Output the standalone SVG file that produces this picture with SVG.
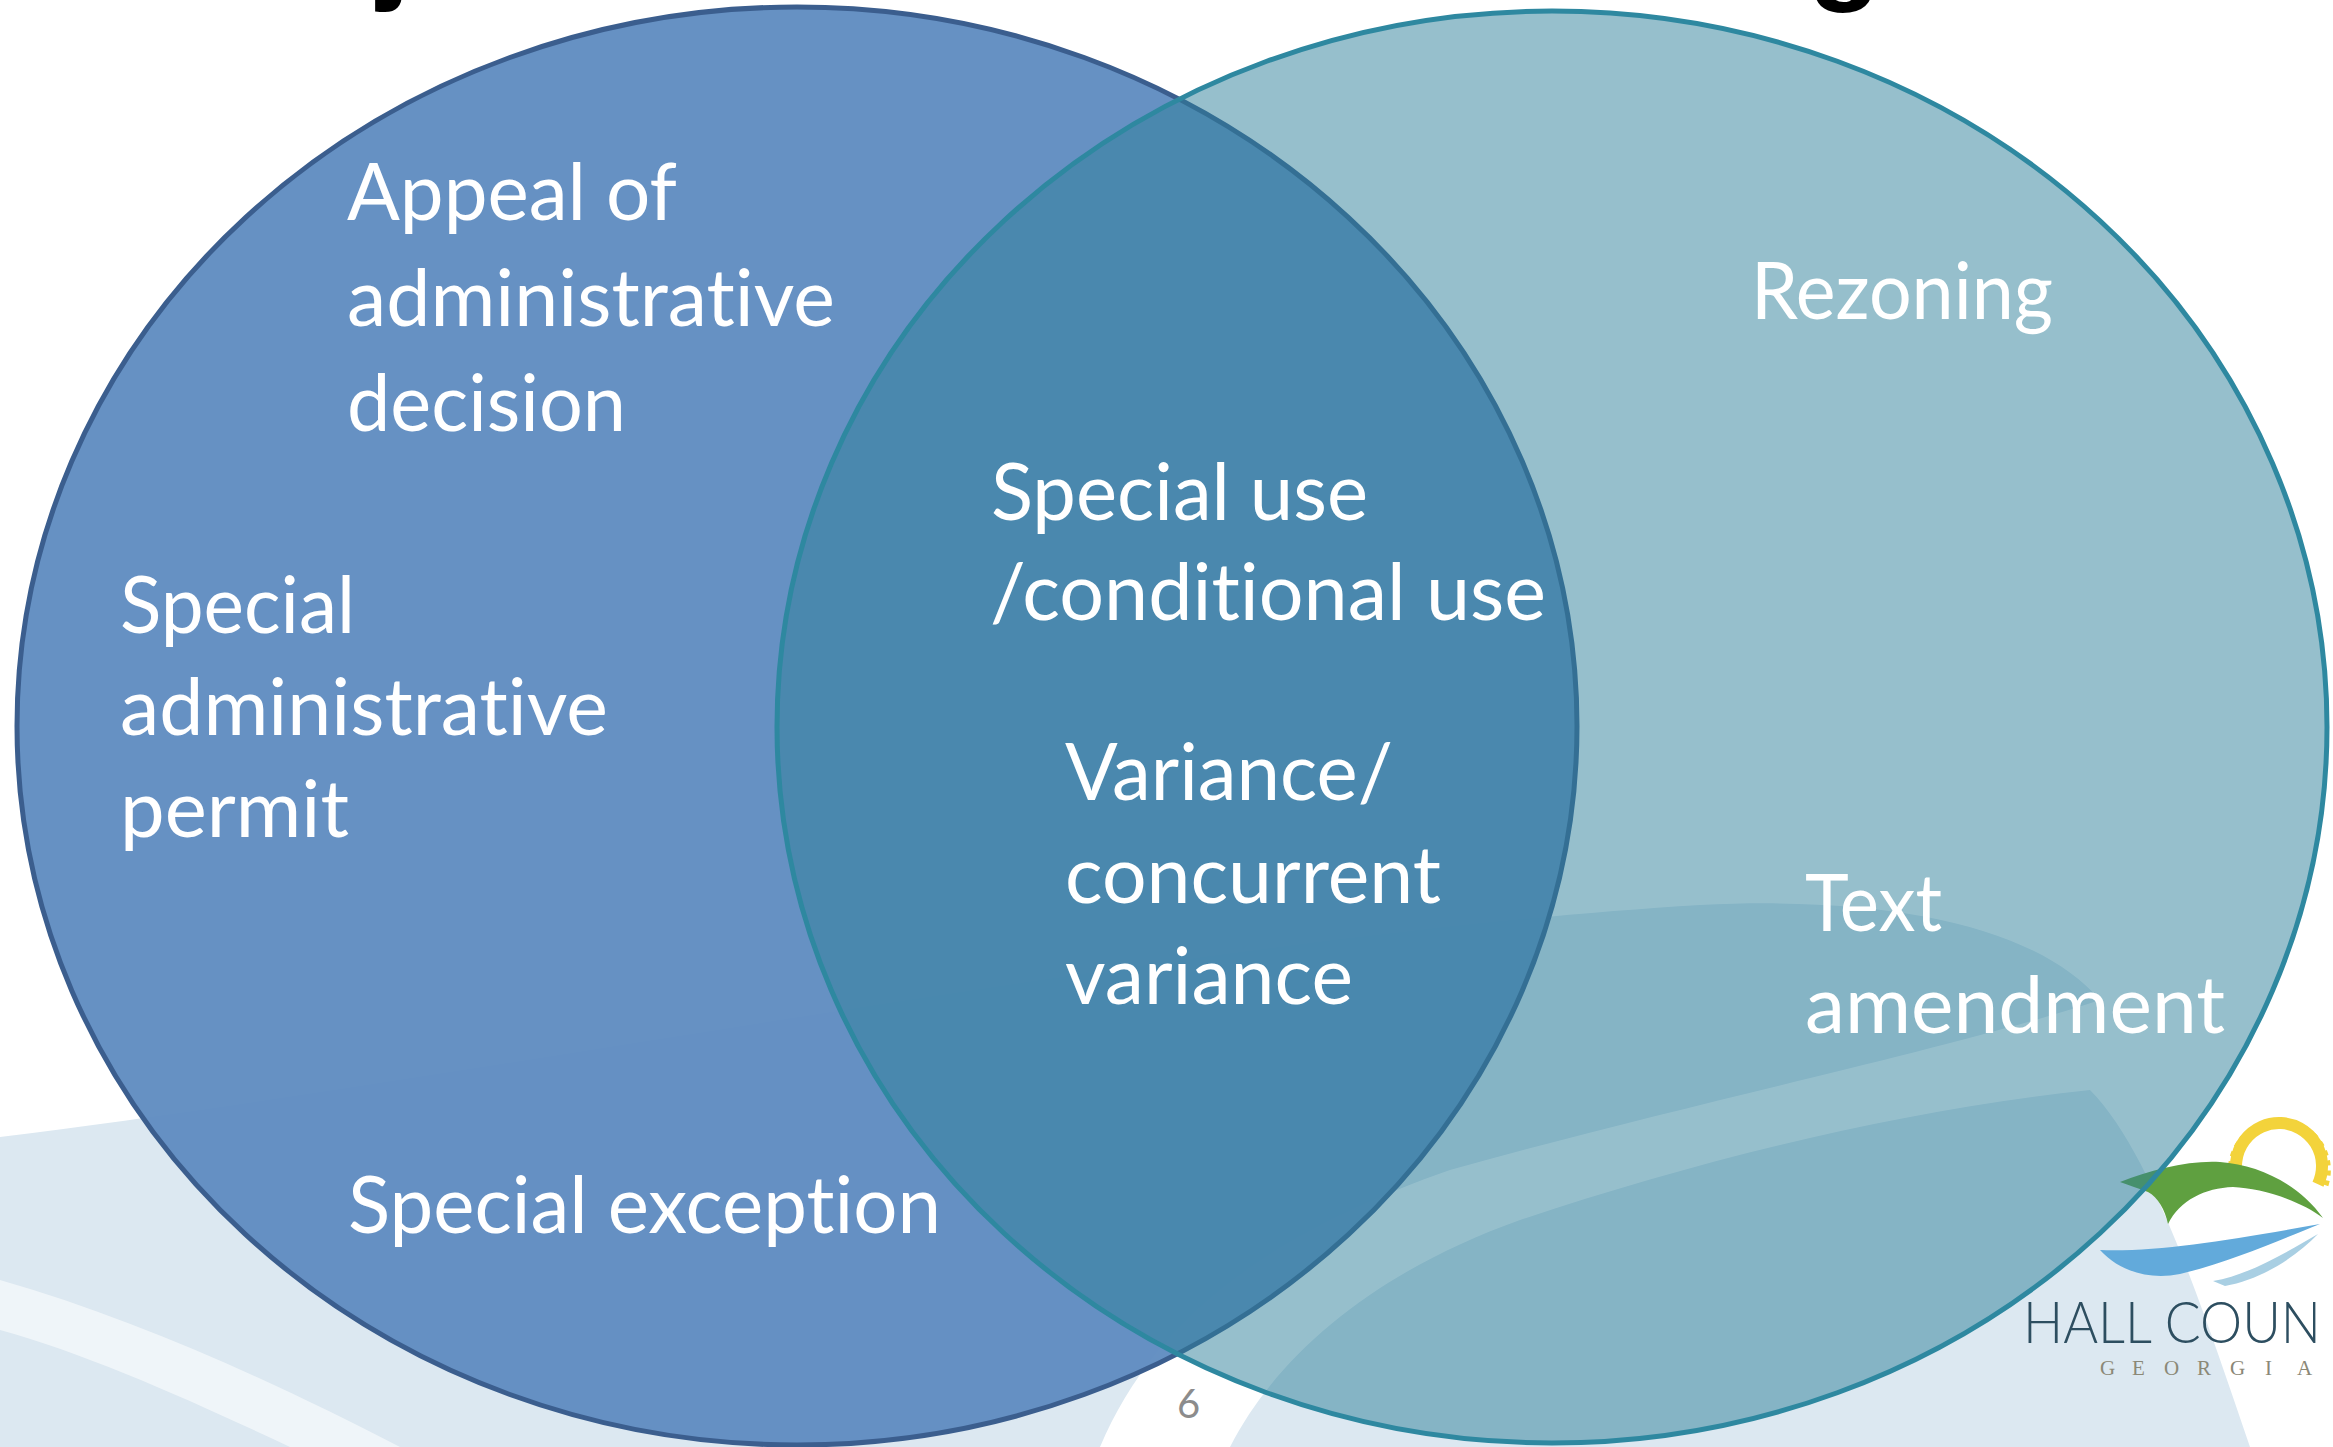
<svg xmlns="http://www.w3.org/2000/svg" width="2333" height="1447" viewBox="0 0 2333 1447">
  <style>
    .lbl { font-family: Lato, "Open Sans", "Liberation Sans", sans-serif; font-size: 80px; fill: #ffffff; font-variant-ligatures: none; font-feature-settings: "liga" 0, "clig" 0; }
    .ttl { font-family: "Liberation Sans", Arial, sans-serif; font-weight: bold; font-size: 120px; fill: #000000; }
    .band { fill: #dce8f1; }
    .setL { fill: #5e8bc0; fill-opacity: 0.95; stroke: #3b5e8e; stroke-width: 5; }
    .setR { fill: #2d7f99; fill-opacity: 0.5; stroke: #2e88a0; stroke-width: 5; }
  </style>
  <rect id="page" x="0" y="0" width="2333" height="1447" fill="#ffffff"/>

  <g id="background">
    <path class="band" d="M0,1137 C500,1075 1200,935 1700,905 C1900,895 2040,930 2100,1000 C1950,1050 1700,1100 1450,1170 C1250,1240 1150,1330 1100,1447 L0,1447 Z"/>
    <path d="M0,1280 C140,1320 280,1385 400,1447 L290,1447 C190,1400 90,1355 0,1330 Z" fill="#ffffff" fill-opacity="0.55"/>
    <path class="band" d="M1230,1447 C1280,1350 1380,1270 1520,1220 C1700,1160 1900,1110 2090,1090 C2150,1150 2200,1300 2250,1447 Z"/>
  </g>

  <g id="title-fragments">
    <text class="ttl" x="377" y="-13">j</text>
    <text class="ttl" x="1808" y="-13">g</text>
  </g>

  <g id="logo">
    <path d="M2238.6,1180.7 A43,43 0 1 1 2318,1184.2" fill="none" stroke="#f3d33b" stroke-width="12"/>
    <path d="M2233,1186 A49,49 0 1 1 2325,1188" fill="none" stroke="#f3d33b" stroke-width="5" stroke-dasharray="5 5"/>
    <path d="M2120,1182 C2150,1170 2190,1160 2220,1162 C2260,1165 2300,1185 2323,1218 C2300,1200 2260,1188 2233,1187 C2205,1188 2180,1200 2168,1224 C2165,1210 2158,1197 2148,1192 C2138,1188 2128,1185 2120,1182 Z" fill="#5fa040"/>
    <path d="M2100,1250 C2160,1252 2230,1240 2320,1224 C2280,1240 2230,1262 2180,1274 C2150,1280 2120,1272 2100,1250 Z" fill="#62aadb"/>
    <path d="M2213,1281 C2250,1275 2290,1250 2318,1234 C2295,1258 2260,1280 2225,1286 Z" fill="#a9cfe3"/>
    <text x="2023" y="1343" font-family="Lato, 'Open Sans', sans-serif" font-weight="300" font-size="57" fill="#2d4e60" textLength="298" lengthAdjust="spacingAndGlyphs">HALL COUN</text>
    <text x="2100 2132 2164 2197 2230 2265 2297" y="1375" font-family="'Liberation Serif', serif" font-size="21" fill="#8b8877">GEORGIA</text>
  </g>

  <g id="set-left">
    <ellipse class="setL" cx="797" cy="726" rx="780" ry="719"/>
  </g>
  <g id="set-right">
    <ellipse class="setR" cx="1552" cy="727" rx="775" ry="716"/>
  </g>

  <g id="connectors"/>

  <g id="label-appeal">
    <text class="lbl" x="347" y="220" textLength="330" lengthAdjust="spacingAndGlyphs">Appeal of</text>
    <text class="lbl" x="347" y="326" textLength="488" lengthAdjust="spacingAndGlyphs">administrative</text>
    <text class="lbl" x="347" y="431" textLength="279" lengthAdjust="spacingAndGlyphs">decision</text>
  </g>
  <g id="label-sap">
    <text class="lbl" x="120" y="633" textLength="235" lengthAdjust="spacingAndGlyphs">Special</text>
    <text class="lbl" x="120" y="735" textLength="488" lengthAdjust="spacingAndGlyphs">administrative</text>
    <text class="lbl" x="120" y="837" textLength="229" lengthAdjust="spacingAndGlyphs">permit</text>
  </g>
  <g id="label-exception">
    <text class="lbl" x="348" y="1233" textLength="593" lengthAdjust="spacingAndGlyphs">Special exception</text>
  </g>
  <g id="label-special-use">
    <text class="lbl" x="991" y="520" textLength="377" lengthAdjust="spacingAndGlyphs">Special use</text>
    <text class="lbl" x="990" y="620" textLength="556" lengthAdjust="spacingAndGlyphs">/conditional use</text>
  </g>
  <g id="label-variance">
    <text class="lbl" x="1065" y="800" textLength="328" lengthAdjust="spacingAndGlyphs">Variance/</text>
    <text class="lbl" x="1065" y="903" textLength="376" lengthAdjust="spacingAndGlyphs">concurrent</text>
    <text class="lbl" x="1065" y="1004" textLength="288" lengthAdjust="spacingAndGlyphs">variance</text>
  </g>
  <g id="label-rezoning">
    <text class="lbl" x="1751" y="319" textLength="302" lengthAdjust="spacingAndGlyphs">Rezoning</text>
  </g>
  <g id="label-text-amendment">
    <text class="lbl" x="1805" y="931" textLength="137" lengthAdjust="spacingAndGlyphs">Text</text>
    <text class="lbl" x="1805" y="1033" textLength="420" lengthAdjust="spacingAndGlyphs">amendment</text>
  </g>

  <g id="page-number">
    <text x="1177" y="1418" font-family="Lato, 'Open Sans', sans-serif" font-size="40" fill="#8c8c8c">6</text>
  </g>
</svg>
